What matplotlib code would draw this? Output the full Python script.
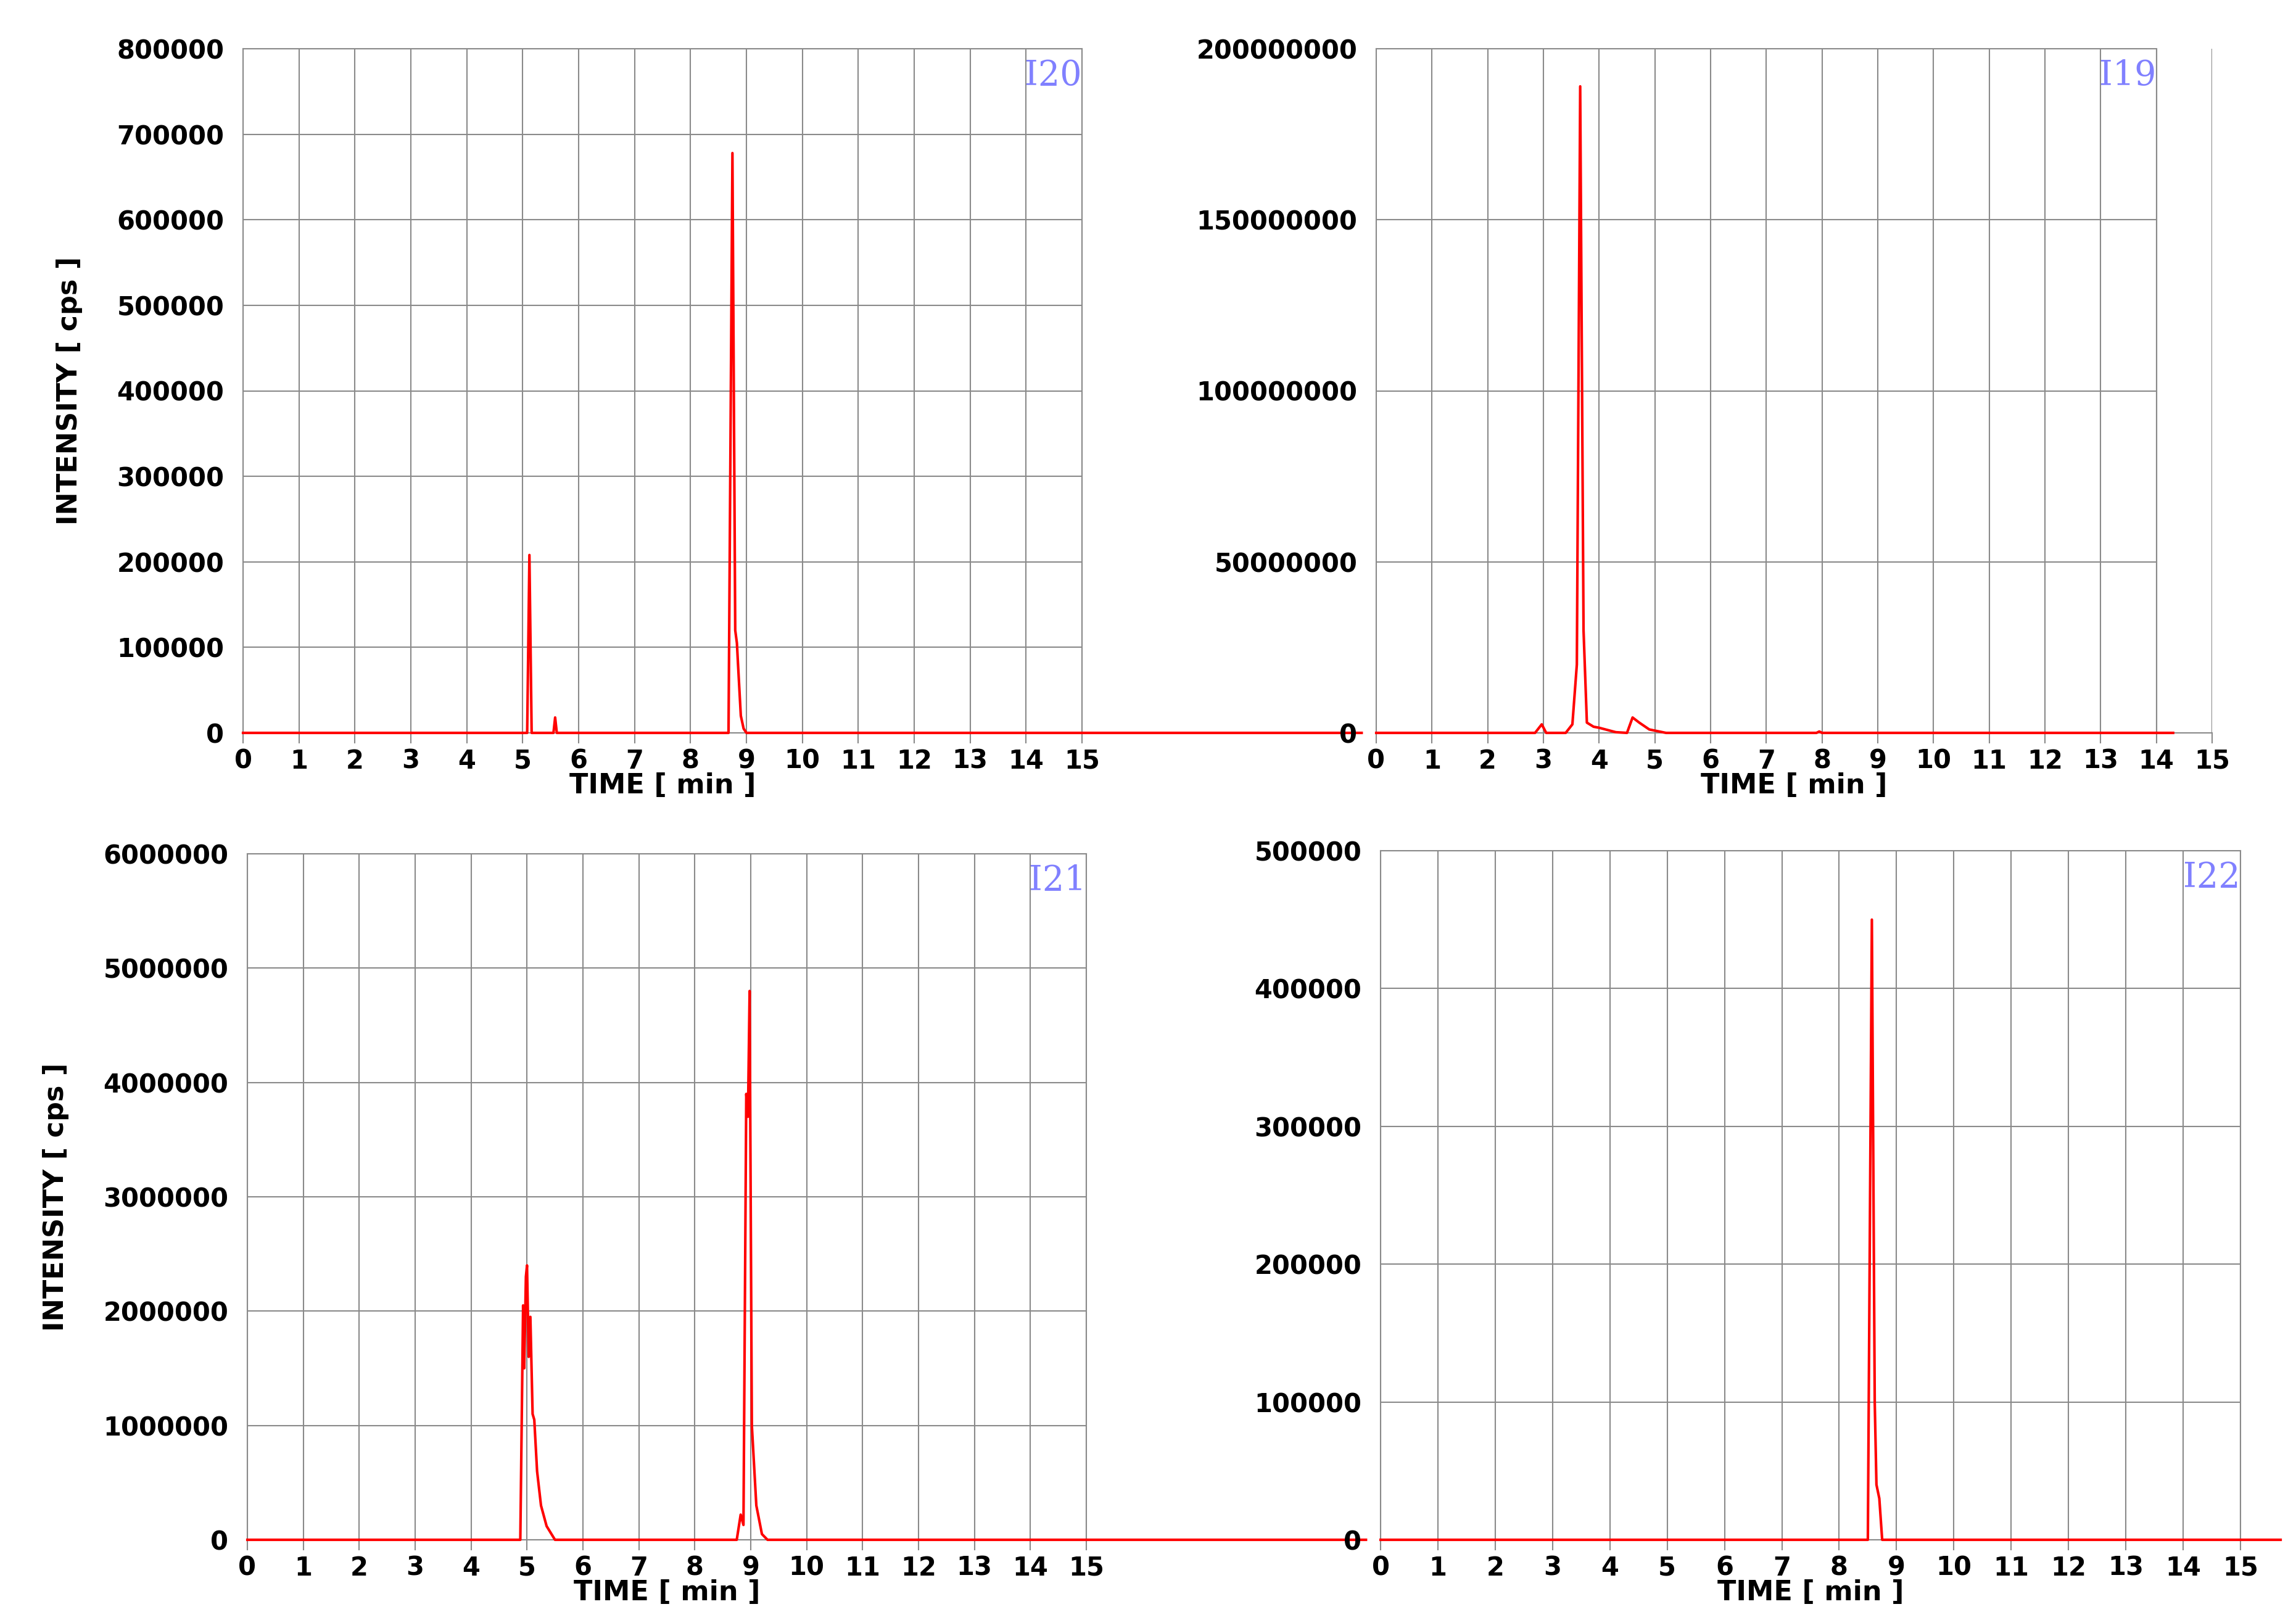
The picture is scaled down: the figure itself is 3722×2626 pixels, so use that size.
import matplotlib
matplotlib.use("Agg")
import matplotlib.pyplot as plt
import numpy as np

# I20 (top-left)
t20 = [0, 5.08, 5.12, 5.16, 5.55, 5.58, 5.61, 8.68, 8.75, 8.80, 8.83, 8.85, 8.90, 8.95, 9.0, 20]
i20 = [0, 0, 208000, 0, 0, 18000, 0, 0, 678000, 120000, 105000, 80000, 20000, 5000, 0, 0]
# I19 (top-right)
t19 = [0, 2.85, 2.97, 3.05, 3.4, 3.52, 3.60, 3.66, 3.72, 3.78, 3.9, 4.0, 4.3, 4.5, 4.6, 4.72, 4.9, 5.2, 7.9, 7.95, 8.0, 14.3]
i19 = [0, 0, 2.5e6, 0, 0, 2.5e6, 2e7, 1.89e8, 3e7, 3e6, 1.8e6, 1.5e6, 2e5, 0, 4.5e6, 3e6, 1e6, 0, 0, 4e5, 0, 0]
# I21 (bottom-left)
t21 = [0, 4.88, 4.93, 4.95, 4.98, 5.0, 5.03, 5.06, 5.1, 5.13, 5.18, 5.25, 5.35, 5.5,
       8.75, 8.82, 8.87, 8.92, 8.95, 8.98, 9.02, 9.1, 9.2, 9.3, 20]
i21 = [0, 0, 2.05e6, 1.5e6, 2.3e6, 2.4e6, 1.6e6, 1.95e6, 1.1e6, 1.05e6, 6e5, 3e5, 1.2e5, 0,
       0, 2.2e5, 1.3e5, 3.9e6, 3.7e6, 4.8e6, 1.0e6, 3e5, 5e4, 0, 0]
# I22 (bottom-right)
t22 = [0, 8.5, 8.57, 8.62, 8.65, 8.7, 8.75, 15.7]
i22 = [0, 0, 450000, 100000, 40000, 30000, 0, 0]

labels = ["I20", "I19", "I21", "I22"]
ymaxs = [800000, 200000000, 6000000, 500000]
ysteps = [100000, 50000000, 1000000, 100000]
xticks = list(range(0, 16))

W, H = 3722, 2626
fig = plt.figure(figsize=(W / 100, H / 100), dpi=100)
boxes = [(394, 79, 1754, 1188), (2231, 79, 3586, 1188),
         (401, 1384, 1761, 2496), (2238, 1379, 3632, 2496)]
series = [(t20, i20), (t19, i19), (t21, i21), (t22, i22)]
gc = "#8a8a8a"
for k, ((x0, y0, x1, y1), (t, v)) in enumerate(zip(boxes, series)):
    ax = fig.add_axes([x0 / W, 1 - y1 / H, (x1 - x0) / W, (y1 - y0) / H])
    ax.set_xlim(0, 15)
    ax.set_ylim(0, ymaxs[k])
    ax.plot(t, v, color="#ff0000", lw=3, clip_on=False, zorder=5)
    ax.set_xticks(xticks)
    ax.set_yticks(np.arange(0, ymaxs[k] + 1, ysteps[k]))
    ax.set_yticklabels([f"{int(y)}" for y in np.arange(0, ymaxs[k] + 1, ysteps[k])])
    ax.tick_params(axis="both", labelsize=30, colors="black", length=12, width=1.5, pad=6)
    ax.tick_params(axis="both", color=gc)
    ax.tick_params(axis="y", length=0, pad=22)
    for lab in ax.get_xticklabels() + ax.get_yticklabels():
        lab.set_fontweight("bold")
    for s in ax.spines.values():
        s.set_color(gc)
        s.set_linewidth(1.5)
    if k == 1:
        ax.spines["right"].set_visible(False)
        ax.spines["top"].set_bounds(0, 14)
        for x in range(1, 16):
            ax.axvline(x, color=gc, lw=1.5, zorder=1)
        for y in np.arange(ysteps[k], ymaxs[k], ysteps[k]):
            ax.axhline(y, xmax=14 / 15, color=gc, lw=1.5, zorder=1)
        ax.axvline(14, color=gc, lw=1.5, zorder=1)
        tx = 14
    else:
        ax.grid(True, color=gc, lw=1.5)
        tx = 15
    ax.text(tx, ymaxs[k] * 0.985, labels[k], ha="right", va="top", color="#8080ff",
            fontsize=40, family="DejaVu Serif")
    ax.set_xlabel("TIME [ min ]", fontsize=32, fontweight="bold", labelpad=-2)
    if k in (0, 2):
        ax.set_ylabel("INTENSITY [ cps ]", fontsize=32, fontweight="bold", labelpad=40)

fig.savefig("out.png", dpi=100, facecolor="white")
